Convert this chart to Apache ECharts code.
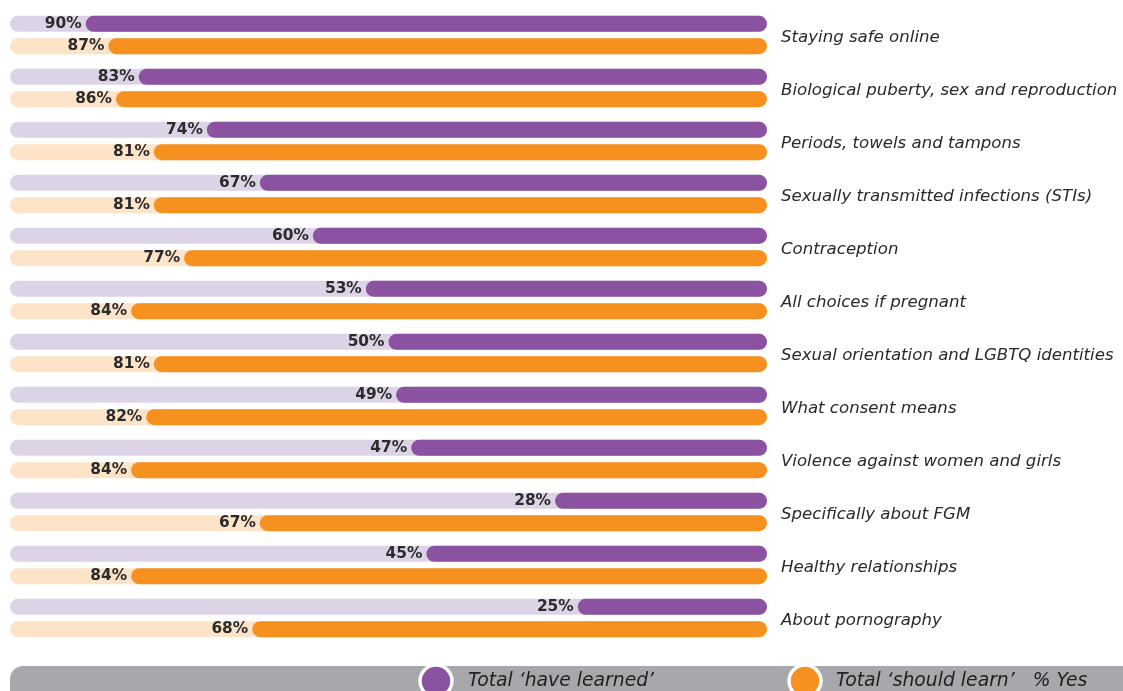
<!DOCTYPE html>
<html><head><meta charset="utf-8">
<script src="https://cdn.jsdelivr.net/npm/echarts@6/dist/echarts.min.js"></script>
<style>html,body{margin:0;padding:0;background:#fff}#c{width:1123px;height:691px}</style>
</head><body><div id="c"></div>
<script>
const categories = [
  "Staying safe online",
  "Biological puberty, sex and reproduction",
  "Periods, towels and tampons",
  "Sexually transmitted infections (STIs)",
  "Contraception",
  "All choices if pregnant",
  "Sexual orientation and LGBTQ identities",
  "What consent means",
  "Violence against women and girls",
  "Specifically about FGM",
  "Healthy relationships",
  "About pornography"
];
const haveLearned = [90, 83, 74, 67, 60, 53, 50, 49, 47, 28, 45, 25];
const shouldLearn = [87, 86, 81, 81, 77, 84, 81, 82, 84, 67, 84, 68];
const trackFull = categories.map(() => 100);
const legendNames = ["Total \u2018have learned\u2019", "Total \u2018should learn\u2019   % Yes"];

const PURPLE = '#8a52a0', ORANGE = '#f6901e', LPURPLE = '#ddd3e7', LORANGE = '#fde3c8';
const BW = 16, GAP = '40%';
const labelStyle = {
  show: true, position: 'left', distance: 4,
  formatter: p => p.value + '%',
  fontFamily: 'DejaVu Sans', fontWeight: 'bold', fontSize: 15.4, color: '#2b2b2b'
};

const chart = echarts.init(document.getElementById('c'));
chart.setOption({
  animation: false,
  grid: { left: 10, right: 356, top: 8.5, bottom: 46.5 },
  xAxis: { type: 'value', min: 0, max: 100, inverse: true, show: false },
  yAxis: [
    { type: 'category', data: categories, inverse: true, position: 'right',
      axisLine: { show: false }, axisTick: { show: false }, splitLine: { show: false },
      axisLabel: { margin: 14, align: 'left', verticalAlign: 'top', lineHeight: 6, fontFamily: 'DejaVu Sans', fontStyle: 'italic', fontSize: 16.6, color: '#2a2a2a' } },
    { type: 'category', data: categories, inverse: true, show: false }
  ],
  series: [
    { type: 'bar', yAxisIndex: 1, data: trackFull, barWidth: BW, barGap: GAP, z: 1,
      itemStyle: { color: LPURPLE, borderRadius: 8 }, silent: true },
    { type: 'bar', yAxisIndex: 1, data: trackFull, barWidth: BW, barGap: GAP, z: 1,
      itemStyle: { color: LORANGE, borderRadius: 8 }, silent: true },
    { type: 'bar', yAxisIndex: 0, name: legendNames[0], data: haveLearned, barWidth: BW, barGap: GAP, z: 3,
      itemStyle: { color: PURPLE, borderRadius: 8 }, label: labelStyle },
    { type: 'bar', yAxisIndex: 0, name: legendNames[1], data: shouldLearn, barWidth: BW, barGap: GAP, z: 3,
      itemStyle: { color: ORANGE, borderRadius: 8 }, label: labelStyle }
  ],
  graphic: [
    { type: 'rect', left: 10, top: 666, shape: { width: 1140, height: 40, r: 13 },
      style: { fill: '#a7a8ab' }, z: 10 },
    { type: 'circle', shape: { cx: 436, cy: 681, r: 16 },
      style: { fill: PURPLE, stroke: '#fff', lineWidth: 3.5 }, z: 11 },
    { type: 'text', left: 468, top: 672, z: 11,
      style: { text: legendNames[0], fontFamily: 'DejaVu Sans', fontStyle: 'italic', fontSize: 18.8, fill: '#231f20' } },
    { type: 'circle', shape: { cx: 805, cy: 681, r: 16 },
      style: { fill: ORANGE, stroke: '#fff', lineWidth: 3.5 }, z: 11 },
    { type: 'text', left: 836, top: 672, z: 11,
      style: { text: legendNames[1], fontFamily: 'DejaVu Sans', fontStyle: 'italic', fontSize: 18.8, fill: '#231f20' } }
  ]
});
</script></body></html>
